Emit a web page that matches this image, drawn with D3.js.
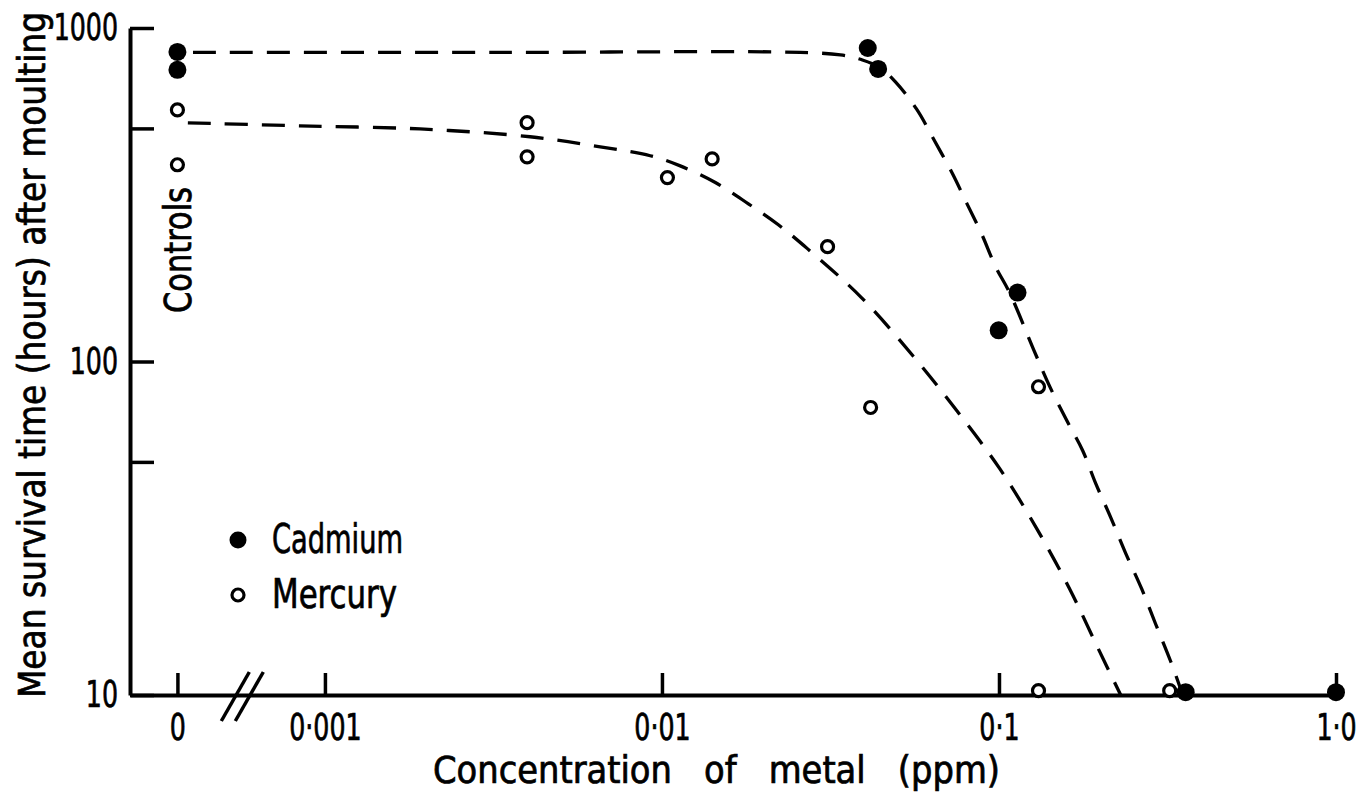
<!DOCTYPE html>
<html><head><meta charset="utf-8">
<script src="https://cdn.jsdelivr.net/npm/d3@7"></script>
<style>
html,body{margin:0;padding:0;background:#fff;}
svg{display:block;}
text{font-family:'Liberation Sans Narrow','DejaVu Sans Condensed',sans-serif;fill:#000;stroke:#000;stroke-width:0.7px;}
</style></head><body>
<svg id="chart" width="1371" height="797"></svg>
<script>
// ---- data ----
const CONTROL_X = 0.000365; // plotting position for the "0" (controls) column, left of the axis break
const xTickValues = [CONTROL_X, 0.001, 0.01, 0.1, 1];
const xTickLabels = ["0", "0·001", "0·01", "0·1", "1·0"];
const yTickValues = [10, 50, 100, 500, 1000];
const yTickLabels = ["10", "", "100", "", "1000"];

const cadmiumConc  = [CONTROL_X, CONTROL_X, 0.0408, 0.0438, 0.0998, 0.1135, 0.358, 1.0];
const cadmiumHours = [848, 749, 871, 754, 124, 161, 10.2, 10.2];
const mercuryConc  = [CONTROL_X, CONTROL_X, 0.00398, 0.00398, 0.01038, 0.01409, 0.0310, 0.0416, 0.131, 0.131, 0.321];
const mercuryHours = [568, 389, 520, 411, 356, 405, 221, 72.8, 84, 10.3, 10.3];

const cadmiumFitConc  = [0.000406, 0.00331, 0.02575, 0.03385, 0.03934, 0.04449, 0.0493, 0.05691, 0.06438, 0.07281, 0.08013, 0.08877, 0.0977, 0.1075, 0.1267, 0.1414, 0.1588, 0.1771, 0.1936, 0.2145, 0.2377, 0.2652, 0.2918, 0.3233, 0.351];
const cadmiumFitHours = [845, 845, 845, 830, 802, 759, 689, 572, 459, 365.5, 299, 241.6, 192.5, 160.9, 108.6, 84.2, 66.6, 54.1, 43.1, 34.1, 26.6, 20.8, 16.3, 12.6, 10];
const mercuryFitConc  = [0.000392, 0.000843, 0.001915, 0.00406, 0.00656, 0.00923, 0.01133, 0.0144, 0.01805, 0.02215, 0.02701, 0.03907, 0.05577, 0.0753, 0.1004, 0.1293, 0.1621, 0.1975, 0.2297];
const mercuryFitHours = [519.5, 509, 498, 472, 440, 414, 386, 344, 297, 257, 218, 155.5, 103.5, 70.8, 47.8, 31.6, 20.8, 13.7, 10];

const legendItems = ["Cadmium", "Mercury"];

// ---- drawing ----
const svg = d3.select("#chart");
const x = d3.scaleLog().domain([0.000264, 1]).range([130, 1336]);
const y = d3.scaleLog().domain([10, 1000]).range([695, 28]);
const FONT = 37;
const SQUEEZE = 0.76; // horizontal condensing of glyphs to match the narrow typeface

function condense(sel) {
  sel.each(function () {
    const w = this.getComputedTextLength();
    if (w > 0) d3.select(this).attr("textLength", w * SQUEEZE).attr("lengthAdjust", "spacingAndGlyphs");
  });
}

// fit curves
const line = d3.line().x(d => x(d[0])).y(d => y(d[1])).curve(d3.curveCatmullRom.alpha(0.5));
[[cadmiumFitConc, cadmiumFitHours], [mercuryFitConc, mercuryFitHours]].forEach(([cx, cy]) => {
  svg.append("path")
    .datum(cx.map((c, i) => [c, cy[i]]))
    .attr("d", line)
    .attr("fill", "none").attr("stroke", "#000")
    .attr("stroke-width", 3.3)
    .attr("stroke-dasharray", "23,14");
});

// x axis
const xAxis = d3.axisBottom(x)
  .tickValues(xTickValues)
  .tickFormat(d => xTickLabels[xTickValues.indexOf(d)])
  .tickSizeInner(-22).tickSizeOuter(0).tickPadding(19);
const gx = svg.append("g").attr("transform", `translate(0,${y(10)})`).call(xAxis);
gx.select(".domain").attr("stroke-width", 4);
gx.selectAll(".tick line").attr("stroke-width", 3.5);
gx.selectAll(".tick text").attr("font-size", FONT).attr("font-family", null).call(condense);

// y axis
const yAxis = d3.axisLeft(y)
  .tickValues(yTickValues)
  .tickFormat(d => yTickLabels[yTickValues.indexOf(d)])
  .tickSizeInner(-24).tickSizeOuter(0).tickPadding(12);
const gy = svg.append("g").attr("transform", `translate(${x.range()[0]},0)`).call(yAxis);
gy.select(".domain").attr("stroke-width", 4);
gy.selectAll(".tick line").attr("stroke-width", 3.5);
gy.selectAll(".tick text").attr("font-size", FONT).attr("font-family", null).call(condense);

// axis break marks
const bx = x(CONTROL_X) + (x(0.001) - x(CONTROL_X)) * 0.44;
const by = y(10) + 1;
[-7, 7].forEach(o => {
  svg.append("line")
    .attr("x1", bx + o - 14).attr("y1", by + 25)
    .attr("x2", bx + o + 14).attr("y2", by - 24)
    .attr("stroke", "#000").attr("stroke-width", 3.5);
});

// points
svg.append("g").selectAll("circle")
  .data(mercuryConc.map((c, i) => [c, mercuryHours[i]]))
  .join("circle")
  .attr("cx", d => x(d[0])).attr("cy", d => y(d[1]))
  .attr("r", 6).attr("fill", "#fff").attr("stroke", "#000").attr("stroke-width", 3.2);
svg.append("g").selectAll("circle")
  .data(cadmiumConc.map((c, i) => [c, cadmiumHours[i]]))
  .join("circle")
  .attr("cx", d => x(d[0])).attr("cy", d => y(d[1]))
  .attr("r", 9).attr("fill", "#000");

// "Controls" label
svg.append("text")
  .attr("transform", `translate(${x(CONTROL_X) + 14},313) rotate(-90)`)
  .attr("font-size", FONT)
  .attr("textLength", 126).attr("lengthAdjust", "spacingAndGlyphs")
  .text("Controls");

// axis titles
svg.append("text")
  .attr("transform", `translate(45,698) rotate(-90)`)
  .attr("font-size", FONT)
  .attr("textLength", 686).attr("lengthAdjust", "spacingAndGlyphs")
  .text("Mean survival time (hours) after moulting");
svg.append("text")
  .attr("x", 433).attr("y", 783)
  .attr("font-size", FONT)
  .style("white-space", "pre")
  .attr("textLength", 567).attr("lengthAdjust", "spacingAndGlyphs")
  .text("Concentration   of   metal   (ppm)");

// legend
const lg = svg.append("g");
legendItems.forEach((name, i) => {
  const cy = 540 + i * 55;
  if (i === 0) lg.append("circle").attr("cx", 238).attr("cy", cy).attr("r", 8.5).attr("fill", "#000");
  else lg.append("circle").attr("cx", 238).attr("cy", cy).attr("r", 6).attr("fill", "#fff").attr("stroke", "#000").attr("stroke-width", 3.2);
  lg.append("text").attr("x", 272).attr("y", cy + 13)
    .attr("font-size", 40)
    .attr("textLength", i === 0 ? 131 : 125).attr("lengthAdjust", "spacingAndGlyphs")
    .text(name);
});
</script>
</body></html>
